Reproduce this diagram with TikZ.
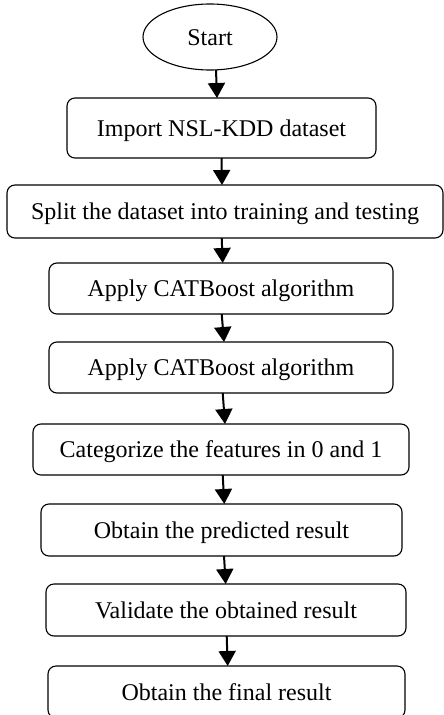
\documentclass[tikz,border=0pt]{standalone}
\usepackage{fontspec}
\setmainfont{Liberation Serif}
\usetikzlibrary{shapes.geometric,arrows.meta}

\begin{document}
\begin{tikzpicture}[x=1pt,y=-1pt,
  every node/.style={font=\fontsize{24}{28}\selectfont, inner sep=0pt, outer sep=0pt,
    text height=16pt, text depth=0pt},
  proc/.style={draw, line width=1.1pt, rounded corners=8pt, minimum height=#1},
  proc/.default=51pt,
  startnode/.style={draw, ellipse, line width=1.1pt, minimum width=134pt, minimum height=66pt},
  arr/.style={line width=2pt, -{Triangle[width=17pt,length=15pt]}}
]
\useasboundingbox (0,0) rectangle (444,715);
\clip (0,0) rectangle (444,715);

\node[startnode] (st) at (210,37) {Start};
\node[proc=60pt, minimum width=309pt] (b1) at (221.5,128) {Import NSL-KDD dataset};
\node[proc=53pt, minimum width=436pt] (b2) at (225,211.5) {Split the dataset into training and testing};
\node[proc, minimum width=344pt] (b3) at (221,288.5) {Apply CATBoost algorithm};
\node[proc, minimum width=344pt] (b4) at (221,367.5) {Apply CATBoost algorithm};
\node[proc, minimum width=376pt] (b5) at (221,449.5) {Categorize the features in 0 and 1};
\node[proc=52pt, minimum width=361pt] (b6) at (221.5,530) {Obtain the predicted result};
\node[proc=52pt, minimum width=360pt] (b7) at (226,610) {Validate the obtained result};
\node[proc=52pt, minimum width=357pt] (b8) at (226.5,692) {Obtain the final result};

\draw[arr] ([xshift=6pt]st.south) -- ([xshift=-4.5pt]b1.north);
\draw[arr] ([xshift=0pt]b1.south) -- ([xshift=-3pt]b2.north);
\draw[arr] ([xshift=-3.3pt]b2.south) -- ([xshift=1.7pt]b3.north);
\draw[arr] ([xshift=0.7pt]b3.south) -- ([xshift=3pt]b4.north);
\draw[arr] ([xshift=1.7pt]b4.south) -- ([xshift=4pt]b5.north);
\draw[arr] ([xshift=1.7pt]b5.south) -- ([xshift=2.8pt]b6.north);
\draw[arr] ([xshift=2.5pt]b6.south) -- ([xshift=-0.3pt]b7.north);
\draw[arr] ([xshift=0.7pt]b7.south) -- ([xshift=1.2pt]b8.north);
\end{tikzpicture}
\end{document}
